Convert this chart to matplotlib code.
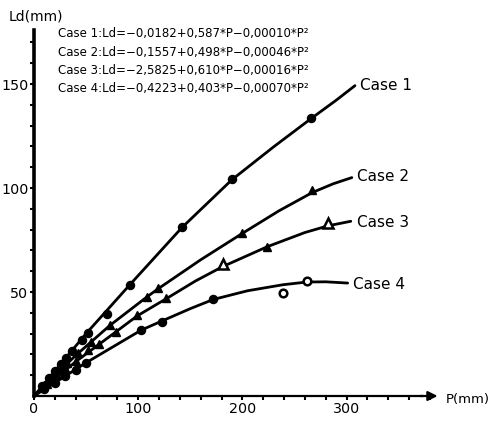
import matplotlib
matplotlib.use("Agg")
import matplotlib.pyplot as plt
import numpy as np

# marker data (P in mm, Ld in mm)
case1_p = [8, 14, 20, 26, 31, 36, 46, 52, 70, 92, 142, 190, 266]
case1_ld = [5, 8.5, 12, 15.5, 18.5, 21.5, 27, 30.3, 39.4, 53.4, 81.4, 104.3, 133.6]

case2_p = [10, 18, 25, 32, 42, 55, 73, 108, 119, 200, 267]
case2_ld = [5.5, 9.5, 13, 16, 20.5, 26, 34, 47.6, 52, 78.4, 99]

case3_p = [12, 22, 30, 40, 52, 62, 79, 99, 127, 224]
case3_ld = [6, 10, 13.5, 17, 22, 25, 30.9, 39, 47, 71.6]
case3_open_p = [181, 282]
case3_open_ld = [63.5, 83.2]

case4_p = [10, 20, 30, 40, 50, 103, 122.5, 172]
case4_ld = [3.2, 6.3, 9.5, 12.5, 15.7, 31.7, 35.7, 46.6]
case4_open_p = [239, 262]
case4_open_ld = [49.5, 55.3]

# fitted curves
curve1_p = [0, 50, 92, 142, 190, 230, 266, 290, 308]
curve1_ld = [0, 30, 53.5, 81, 104, 119.8, 133.4, 142.2, 149.2]
curve2_p = [0, 40, 73, 108, 119, 160, 200, 235, 267, 287, 305]
curve2_ld = [0, 19.5, 34, 47.5, 51.5, 65.5, 78.2, 89, 97.8, 102, 105]
curve3_p = [0, 40, 79, 99, 127, 155, 181, 224, 260, 282, 304]
curve3_ld = [0, 16.5, 31, 38.5, 46.8, 55.3, 62.2, 71.8, 78.6, 81.8, 84]
curve4_p = [0, 50, 103, 122.5, 150, 172, 205, 239, 262, 280, 301]
curve4_ld = [0, 16, 31.7, 36, 42, 46.4, 50.6, 53.5, 54.8, 54.9, 54.3]

case_names = ["Case 1", "Case 2", "Case 3", "Case 4"]
name_p = [313, 310, 310, 306]
name_ld = [149.5, 105.3, 83.3, 53.4]

equations = [
    "Case 1:Ld=\u22120,0182+0,587*P\u22120,00010*P\u00b2",
    "Case 2:Ld=\u22120,1557+0,498*P\u22120,00046*P\u00b2",
    "Case 3:Ld=\u22122,5825+0,610*P\u22120,00016*P\u00b2",
    "Case 4:Ld=\u22120,4223+0,403*P\u22120,00070*P\u00b2",
]

x_major = [0, 100, 200, 300]
y_major = [50, 100, 150]

W, H = 494, 421
fig = plt.figure(figsize=(W / 100, H / 100), dpi=100)
# axes placed so that P=0 sits at x=34 px and Ld=0 at y=396 px
ax = fig.add_axes([34 / W, (H - 396) / H, 400 * 1.042 / W, 180 * 2.08 / H])
ax.set_xlim(0, 400)
ax.set_ylim(0, 180)

lw = 2.0
for cp, cl in [(curve1_p, curve1_ld), (curve2_p, curve2_ld),
               (curve3_p, curve3_ld), (curve4_p, curve4_ld)]:
    ax.plot(cp, cl, color="black", lw=lw, solid_capstyle="round",
            solid_joinstyle="round", clip_on=False)

ax.plot(case1_p, case1_ld, "o", color="black", ms=5.8, clip_on=False)
ax.plot(case2_p, case2_ld, "^", color="black", ms=6.3, clip_on=False)
ax.plot(case3_p, case3_ld, "^", color="black", ms=6.3, clip_on=False)
ax.plot(case3_open_p, case3_open_ld, "^", mfc="white", mec="black", mew=1.8,
        ms=7, clip_on=False)
ax.plot(case4_p, case4_ld, "o", color="black", ms=5.8, clip_on=False)
ax.plot(case4_open_p, case4_open_ld, "o", mfc="white", mec="black", mew=1.8,
        ms=5.5, clip_on=False)

for name, px, py in zip(case_names, name_p, name_ld):
    ax.text(px, py, name, fontsize=11, ha="left", va="center")

for i, eq in enumerate(equations):
    fig.text(58 / W, 1 - (34 + 18.3 * i) / H, eq, fontsize=8.5,
             ha="left", va="center")

# axes: no box, arrow on P axis
for s in ["top", "right"]:
    ax.spines[s].set_visible(False)
ax.spines["left"].set_linewidth(2.6)
ax.spines["left"].set_bounds(0, 176)
ax.spines["bottom"].set_linewidth(1.6)
ax.spines["bottom"].set_bounds(0, 372)
ax.annotate("", xy=(390, 0), xytext=(368, 0),
            arrowprops=dict(arrowstyle="-|>", color="black", lw=1.6,
                            mutation_scale=14),
            annotation_clip=False)

ax.set_xticks(x_major)
ax.set_xticks(np.arange(20, 381, 20), minor=True)
ax.set_yticks(y_major)
ax.set_yticks(np.arange(10, 171, 10), minor=True)
ax.tick_params(which="both", direction="out", length=3, width=1.5)
ax.tick_params(axis="both", labelsize=10.3, pad=1)
ax.set_xticklabels([str(v) for v in x_major])
ax.set_yticklabels([str(v) for v in y_major])

fig.text(36 / W, 1 - 17 / H, "Ld(mm)", fontsize=10, ha="center", va="center")
fig.text(468 / W, 1 - 400 / H, "P(mm)", fontsize=9.5, ha="center", va="center")

fig.savefig("out.png", dpi=100)
